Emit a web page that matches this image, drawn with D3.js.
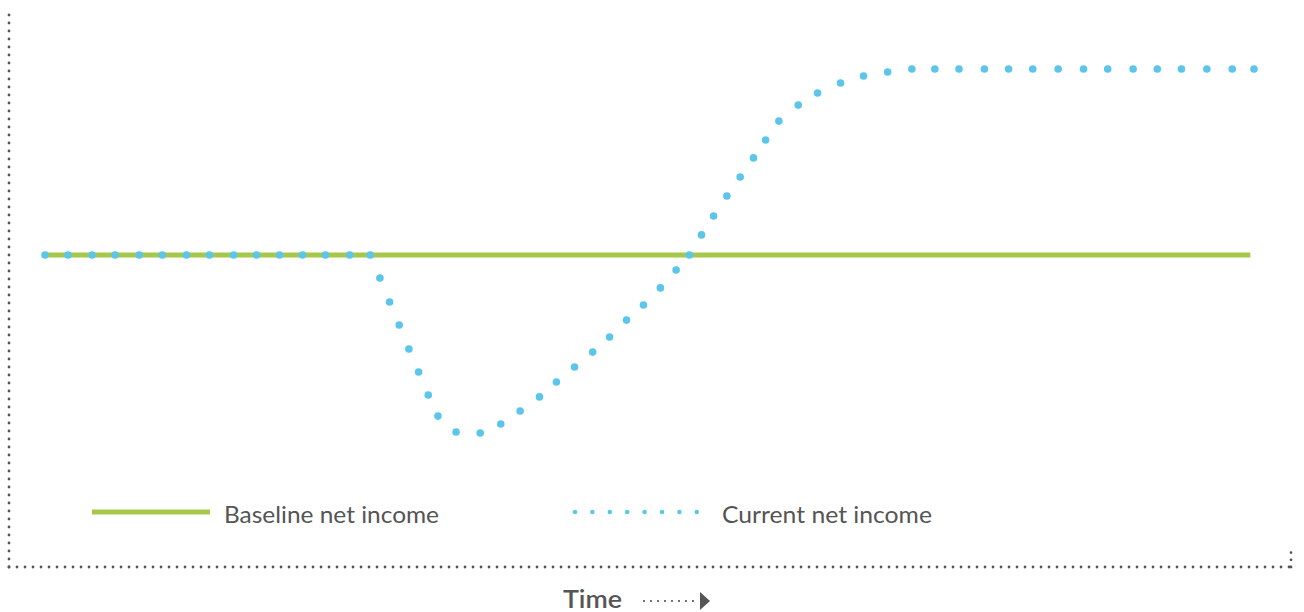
<!DOCTYPE html>
<html>
<head>
<meta charset="utf-8">
<script src="https://cdn.jsdelivr.net/npm/d3@7"></script>
<style>
  html, body { margin: 0; padding: 0; background: #fff; }
  text { font-family: Lato, "Open Sans", sans-serif; fill: #555; }
</style>
</head>
<body>
<svg class="chart"></svg>
<script>
const WIDTH = 1304;
const HEIGHT = 612;
const GREEN = "#a6c84a";
const BLUE = "#5bc5ea";
const GREY = "#555";

// time (0-100) and net income (baseline = 0)
const TIME = [0, 1.9, 3.9, 5.8, 7.8, 9.7, 11.7, 13.6, 15.6, 17.5, 19.4, 21.3, 23.2, 25.2, 26.9,
              27.7, 28.5, 29.3, 30.1, 30.9, 31.7, 32.5, 34.0, 36.0, 37.7, 39.3, 40.9, 42.3,
              43.8, 45.3, 46.7, 48.1, 49.5, 50.9, 52.2, 53.3, 54.3, 55.3, 56.4, 57.5, 58.6,
              59.6, 60.7, 62.3, 63.9, 65.8, 67.7, 69.7, 71.7, 73.6, 75.6, 77.7, 79.7, 81.7,
              83.8, 85.9, 87.9, 90.0, 92.0, 94.0, 96.1, 98.2, 100];
const CURRENT = [0, 0, 0, 0, 0, 0, 0, 0, 0, 0, 0, 0, 0, 0, 0,
                 -12.4, -25.3, -37.6, -50.5, -62.9, -75.3, -86.6, -95.2, -95.7, -90.9, -83.9, -76.3, -68.3,
                 -60.2, -52.2, -44.1, -35.0, -26.9, -17.7, -8.1, 0, 10.8, 21.0, 31.7, 41.9, 52.2,
                 61.8, 72.0, 80.6, 87.1, 92.5, 96.2, 98.4, 100, 100, 100, 100, 100, 100,
                 100, 100, 100, 100, 100, 100, 100, 100, 100];
const BASELINE_TIME = [0, 99.7];
const BASELINE = [0, 0];
const SERIES_LABELS = ["Baseline net income", "Current net income"];
const AXIS_LABEL = "Time";

let svg = d3.select(".chart")
            .attr("width", WIDTH)
            .attr("height", HEIGHT);

let x = d3.scaleLinear().domain([0, 100]).range([45, 1254]);
let y = d3.scaleLinear().domain([-100, 100]).range([441, 69]);

// dotted frame
const dotted = (sel) => sel.attr("fill", "none")
                          .attr("stroke", GREY)
                          .attr("stroke-width", 2.8)
                          .attr("stroke-linecap", "round")
                          .attr("stroke-dasharray", "0 8");

svg.append("line").attr("x1", 9).attr("x2", 9).attr("y1", 567).attr("y2", 14).call(dotted);
svg.append("line").attr("x1", 9).attr("x2", 1291).attr("y1", 567).attr("y2", 567).call(dotted);
svg.append("line").attr("x1", 1291).attr("x2", 1291).attr("y1", 567).attr("y2", 551)
   .call(dotted).attr("stroke-dasharray", "0 7.2");

// axis label with arrow
svg.append("text")
   .attr("x", 563).attr("y", 608)
   .attr("font-size", 24)
   .attr("font-weight", 600)
   .attr("textLength", 59)
   .attr("lengthAdjust", "spacingAndGlyphs")
   .text(AXIS_LABEL);

svg.append("line").attr("x1", 644).attr("x2", 700).attr("y1", 601).attr("y2", 601)
   .call(dotted).attr("stroke-width", 2.2).attr("stroke-dasharray", "0 7");
svg.append("path")
   .attr("d", "M700,592 L710,601 L700,610 Z")
   .attr("fill", "#555");

// baseline
let baseline = BASELINE_TIME.map((t, i) => ({t: t, v: BASELINE[i]}));
svg.append("path")
   .datum(baseline)
   .attr("fill", "none")
   .attr("stroke", GREEN)
   .attr("stroke-width", 5)
   .attr("d", d3.line().x(d => x(d.t)).y(d => y(d.v)));

// current net income dots
let current = TIME.map((t, i) => ({t: t, v: CURRENT[i]}));
svg.selectAll("circle.current")
   .data(current)
   .enter().append("circle")
   .attr("class", "current")
   .attr("cx", d => x(d.t))
   .attr("cy", d => y(d.v))
   .attr("r", 3.8)
   .attr("fill", BLUE);

// legend
svg.append("line")
   .attr("x1", 92).attr("x2", 210).attr("y1", 512).attr("y2", 512)
   .attr("stroke", GREEN).attr("stroke-width", 5);
svg.append("text")
   .attr("x", 224).attr("y", 523)
   .attr("font-size", 23)
   .attr("textLength", 215)
   .attr("lengthAdjust", "spacingAndGlyphs")
   .text(SERIES_LABELS[0]);

svg.append("line")
   .attr("x1", 575).attr("x2", 697).attr("y1", 512).attr("y2", 512)
   .attr("stroke", BLUE).attr("stroke-width", 4.5)
   .attr("stroke-linecap", "round")
   .attr("stroke-dasharray", "0 17.4");
svg.append("text")
   .attr("x", 722).attr("y", 523)
   .attr("font-size", 23)
   .attr("textLength", 210)
   .attr("lengthAdjust", "spacingAndGlyphs")
   .text(SERIES_LABELS[1]);
</script>
</body>
</html>
